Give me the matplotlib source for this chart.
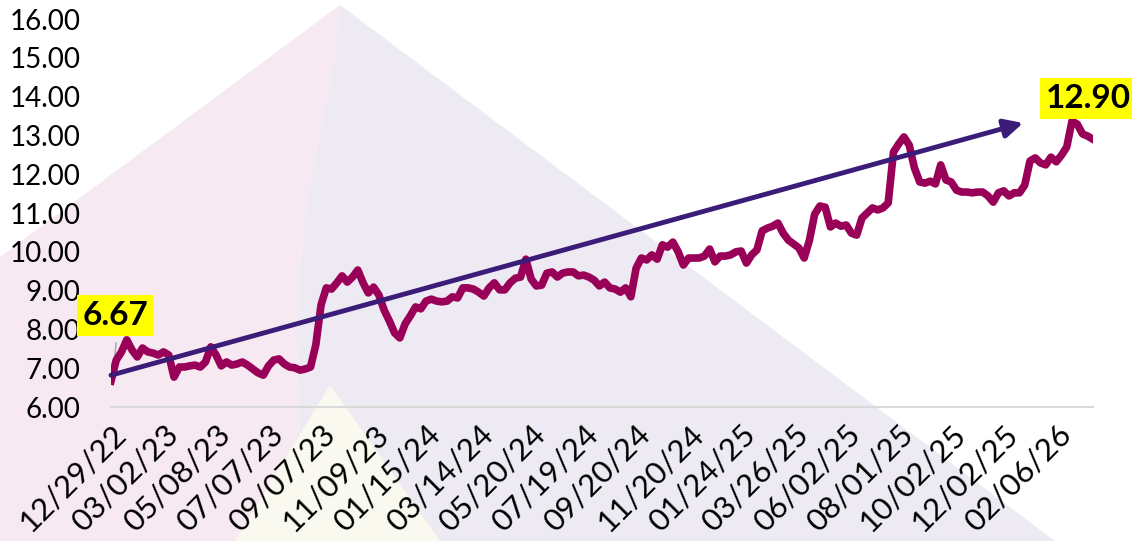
import numpy as np
import matplotlib.pyplot as plt
from matplotlib.patches import Polygon

plt.rcParams['font.family'] = ['Lato', 'DejaVu Sans']

# x-axis category labels (one every 10 samples)
tick_labels = ["12/29/22", "03/02/23", "05/08/23", "07/07/23", "09/07/23", "11/09/23",
               "01/15/24", "03/14/24", "05/20/24", "07/19/24", "09/20/24", "11/20/24",
               "01/24/25", "03/26/25", "06/02/25", "08/01/25", "10/02/25", "12/02/25",
               "02/06/26"]

# price series
prices = [6.67, 7.21, 7.42, 7.73, 7.47, 7.29, 7.52, 7.42, 7.39, 7.34,
          7.42, 7.34, 6.77, 7.03, 7.03, 7.06, 7.08, 7.03, 7.16, 7.55,
          7.34, 7.06, 7.16, 7.08, 7.11, 7.16, 7.08, 6.98, 6.88, 6.82,
          7.06, 7.21, 7.24, 7.11, 7.03, 7.01, 6.95, 6.98, 7.03, 7.60,
          8.63, 9.07, 9.04, 9.20, 9.38, 9.22, 9.35, 9.53, 9.20, 8.94,
          9.09, 8.89, 8.50, 8.22, 7.91, 7.78, 8.14, 8.35, 8.58, 8.53,
          8.73, 8.78, 8.73, 8.71, 8.73, 8.84, 8.81, 9.07, 9.07, 9.04,
          8.96, 8.86, 9.07, 9.20, 9.02, 9.02, 9.20, 9.32, 9.35, 9.81,
          9.30, 9.12, 9.14, 9.45, 9.48, 9.35, 9.45, 9.48, 9.48, 9.38,
          9.40, 9.35, 9.27, 9.12, 9.22, 9.07, 9.04, 8.96, 9.07, 8.84,
          9.58, 9.84, 9.79, 9.92, 9.81, 10.18, 10.12, 10.25, 10.00, 9.66,
          9.84, 9.84, 9.84, 9.89, 10.07, 9.74, 9.89, 9.89, 9.92, 10.00,
          10.02, 9.71, 9.92, 10.05, 10.54, 10.61, 10.66, 10.74, 10.48, 10.30,
          10.20, 10.10, 9.84, 10.30, 10.97, 11.18, 11.15, 10.64, 10.74, 10.66,
          10.69, 10.48, 10.43, 10.87, 11.00, 11.13, 11.08, 11.13, 11.26, 12.57,
          12.78, 12.96, 12.75, 12.16, 11.80, 11.77, 11.82, 11.75, 12.24, 11.85,
          11.80, 11.59, 11.54, 11.54, 11.52, 11.54, 11.54, 11.44, 11.28, 11.52,
          11.57, 11.44, 11.52, 11.52, 11.72, 12.34, 12.42, 12.29, 12.24, 12.44,
          12.32, 12.49, 12.70, 13.37, 13.29, 13.04, 12.98, 12.90]

start_label = "6.67"
end_label = "12.90"
trend_start = 6.82
trend_end = 13.32

W, H = 1132, 541
fig = plt.figure(figsize=(W / 100, H / 100), dpi=100)


def px(pts):
    return [(x / W, 1 - y / H) for x, y in pts]


# faint watermark in the background
curve = [(333, 67), (320, 133), (307, 200), (300, 267), (297, 333), (298, 400), (305, 541)]
pink = [(0, 257), (340, 5)] + curve + [(0, 541)]
lav = [(340, 5), (1055, 541)] + curve[::-1]
yel = [(235, 541), (330, 385), (440, 541)]
for poly, col in [(pink, '#F7E9F1'), (lav, '#EEEAF3'), (yel, '#FAF9F0')]:
    fig.patches.append(Polygon(px(poly), closed=True, transform=fig.transFigure,
                               facecolor=col, edgecolor='none', zorder=-10))

ax = fig.add_axes([111 / W, 1 - 407 / H, 982 / W, 388 / H])
ax.set_facecolor('none')
ax.set_zorder(1)

x = np.arange(len(prices))
ax.plot(x, prices, color='#990057', lw=5.5, solid_joinstyle='round', zorder=3)

# trend arrow
ax.annotate('', xy=(173.7, trend_end), xytext=(0, trend_start),
            arrowprops=dict(arrowstyle='-|>', color='#3B1C78', lw=3.5,
                            mutation_scale=28, shrinkA=0, shrinkB=0),
            zorder=4)

# data labels
ax.plot([0.2, 1.0], [prices[0] + 0.05, 7.65], color='#A6A6A6', lw=1, zorder=2)
ax.text(0.86, 8.36, start_label, ha='center', va='center', fontsize=24,
        fontweight='bold', clip_on=False, zorder=5,
        bbox=dict(boxstyle='square,pad=0.18', facecolor='#FFFF00', edgecolor='none'))
ax.text(186.1, 13.96, end_label, ha='center', va='center', fontsize=24,
        fontweight='bold', clip_on=False, zorder=5,
        bbox=dict(boxstyle='square,pad=0.18', facecolor='#FFFF00', edgecolor='none'))

ax.set_xlim(0, 187)
ax.set_ylim(6, 16)
ax.set_yticks(np.arange(6, 17, 1))
ax.set_yticklabels(["%.2f" % v for v in np.arange(6, 17, 1)])
ax.set_xticks(np.arange(0, 10 * len(tick_labels), 10))
ax.set_xticklabels(tick_labels, rotation=45, ha='right', rotation_mode='anchor')
ax.tick_params(axis='both', length=0, colors='black')
ax.tick_params(axis='y', pad=22, labelsize=20)
ax.tick_params(axis='x', pad=9, labelsize=22.5)

for s in ['top', 'right', 'left']:
    ax.spines[s].set_visible(False)
ax.spines['bottom'].set_color('#D9D9D9')
ax.spines['bottom'].set_linewidth(1.5)

fig.savefig("out.png", dpi=100)
